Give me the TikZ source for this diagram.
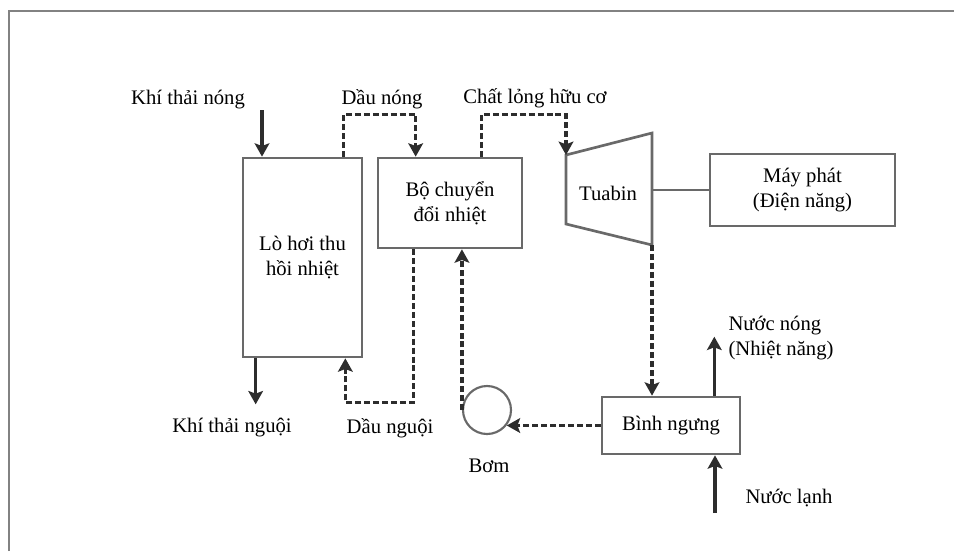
\documentclass[tikz,border=0pt]{standalone}
\usepackage{fontspec}
\setmainfont{Liberation Serif}
\usetikzlibrary{arrows.meta,calc}

\definecolor{boxgray}{RGB}{105,105,105}
\definecolor{flowgray}{RGB}{45,45,45}
\definecolor{framegray}{RGB}{130,130,130}

\tikzset{every picture/.style={line width=0.75pt}}
\tikzset{
  blk/.style={draw=boxgray, line width=2pt, fill=white, inner sep=0pt, align=center},
  lbl/.style={inner sep=0.75pt, align=center},
  flow/.style={draw=flowgray, line width=2.6pt, -{Stealth[length=10pt,width=11pt,inset=2pt]}},
  dflow/.style={flow, dash pattern=on 4.5pt off 2.2pt},
}

\begin{document}
\begin{tikzpicture}[x=0.75pt,y=0.75pt,yscale=-1,xscale=1,font=\fontsize{15.5}{18.5}\selectfont]
\useasboundingbox (0,0) rectangle (954,551);

%Shape: Frame
\draw [draw=framegray, line width=2pt] (9,551) -- (9,11) -- (954,11) ;

%Shape: Rectangle [boiler]
\node (boiler) at (302.5,257.5) [blk, minimum width=89.25pt, minimum height=149.25pt] {Lò hơi thu\\hồi nhiệt};
%Shape: Rectangle [heat exchanger]
\node (hx) at (450,203) [blk, minimum width=108pt, minimum height=67.5pt] {Bộ chuyển\\đổi nhiệt};
%Shape: Rectangle [generator]
\node (genr) at (802.5,190) [blk, minimum width=138.75pt, minimum height=54pt] {Máy phát\\(Điện năng)};
%Shape: Rectangle [condenser]
\node (cond) at (671,425.5) [blk, minimum width=103.5pt, minimum height=42.75pt] {Bình ngưng};
%Shape: Circle [pump]
\node (pump) at (487,410) [circle, draw=boxgray, line width=1.6pt, minimum size=36pt, inner sep=0pt] {};

%Shape: Trapezoid [turbine]
\coordinate (tbA) at (566,155);
\coordinate (tbB) at (652,133);
\coordinate (tbC) at (652,245);
\coordinate (tbD) at (566,224);
\draw [draw=boxgray, line width=2pt, line join=miter] (tbA) -- (tbB) -- (tbC) -- (tbD) -- cycle ;
\node (tbtext) at (608,193) [lbl] {Tuabin};

% free ends
\coordinate (hotgas) at (262,110);
\coordinate (coldin) at (715,513);

% Connectors
\draw [flow] (hotgas) -- (hotgas |- boiler.north) ;
\draw [dflow] ($(boiler.north east)+(-20,0)$) -- ++(0,-42) -| ($(hx.north west)+(39,0)$) ;
\draw [dflow] ($(hx.north east)+(-42,0)$) -- ++(0,-42) -| (tbA) ;
\draw [draw=boxgray, line width=2pt] (genr.west) -- (genr.west -| tbB) ;
\draw [dflow] (tbC) -- (tbC |- cond.north) ;
\draw [dflow] (cond.west) -- (cond.west -| pump.-38) ;
\draw [dflow] (pump.west) -- (pump.west |- hx.south) ;
\draw [dflow] ($(hx.south west)+(37,0)$) -- ++(0,153) -| ($(boiler.south east)+(-18,0)$) ;
\draw [flow] ($(boiler.south west)+(14,0)$) -- ++(0,46) ;
\draw [flow] ($(cond.north east)+(-27,0)$) -- ++(0,-59) ;
\draw [flow] (coldin) -- (coldin |- cond.south) ;

% Text Node
\node (hotgaslbl) at (188,104) [lbl, anchor=base] {Khí thải nóng};
% Text Node
\node (hotoillbl) at (382,104) [lbl, anchor=base] {Dầu nóng};
% Text Node
\node (orglbl) at (535,103) [lbl, anchor=base] {Chất lỏng hữu cơ};
% Text Node
\node (coldgaslbl) at (232,432) [lbl, anchor=base] {Khí thải nguội};
% Text Node
\node (coldoillbl) at (390,433) [lbl, anchor=base] {Dầu nguội};
% Text Node
\node (pumplbl) at (489,472) [lbl, anchor=base] {Bơm};
% Text Node
\node (hotwlbl) at (727,338) [lbl, anchor=west, align=left] {Nước nóng\\(Nhiệt năng)};
% Text Node
\node (coldwlbl) at (744,503) [lbl, anchor=base west] {Nước lạnh};

\end{tikzpicture}
\end{document}
